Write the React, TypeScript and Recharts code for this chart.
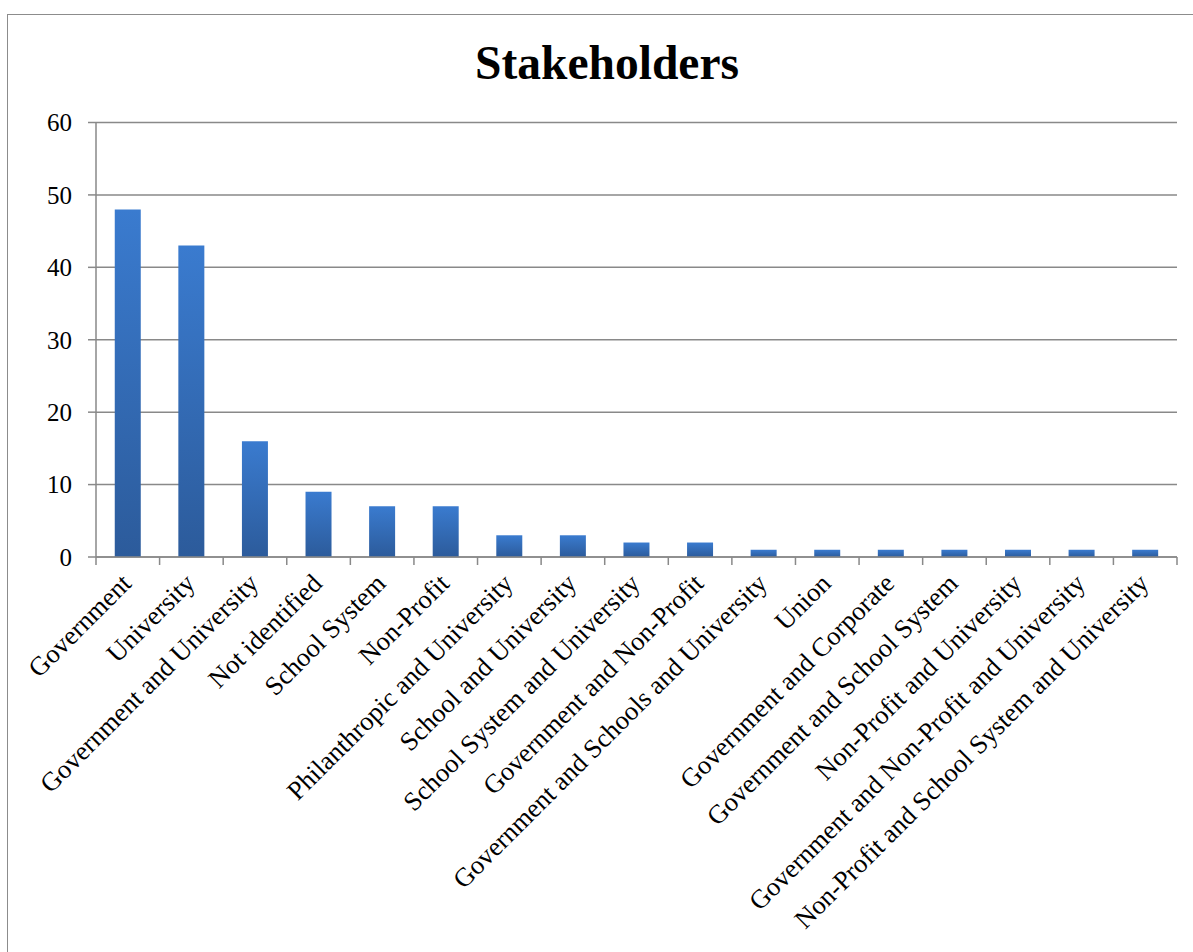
import React from "react";
import { BarChart, Bar, XAxis, YAxis, CartesianGrid } from "recharts";

const categories = [
  "Government",
  "University",
  "Government and University",
  "Not identified",
  "School System",
  "Non-Profit",
  "Philanthropic and University",
  "School and University",
  "School System and University",
  "Government and Non-Profit",
  "Government and Schools and University",
  "Union",
  "Government and Corporate",
  "Government and School System",
  "Non-Profit and University",
  "Government and Non-Profit and University",
  "Non-Profit and School System and University",
];

const counts = [48, 43, 16, 9, 7, 7, 3, 3, 2, 2, 1, 1, 1, 1, 1, 1, 1];

const yTicks = [0, 10, 20, 30, 40, 50, 60];

const title = "Stakeholders";

const data = categories.map((name, i) => ({ name, value: counts[i] }));

const AXIS_COLOR = "#898989";
const FONT = "'Liberation Serif', 'Times New Roman', serif";
const TICK_SIZE = 8;

function CategoryTick(props: any) {
  const { x, y, payload, index, visibleTicksCount } = props;
  const half = payload && payload.offset ? payload.offset : 0;
  const axisY = y - TICK_SIZE;
  const tx = x + 5;
  const ty = y + 20;
  return (
    <g>
      <line x1={x - half} x2={x - half} y1={axisY} y2={axisY + TICK_SIZE} stroke={AXIS_COLOR} strokeWidth={1.5} />
      {index === visibleTicksCount - 1 ? (
        <line x1={x + half} x2={x + half} y1={axisY} y2={axisY + TICK_SIZE} stroke={AXIS_COLOR} strokeWidth={1.5} />
      ) : null}
      <text
        x={tx}
        y={ty}
        transform={`rotate(-45, ${tx}, ${ty})`}
        textAnchor="end"
        fontFamily={FONT}
        fontSize={26.5}
        fill="#000"
      >
        {payload.value}
      </text>
    </g>
  );
}

export default function App() {
  return (
    <div style={{ position: "absolute", left: 0, top: 0, width: 1193, height: 952, background: "#fff", overflow: "hidden" }}>
      <div
        style={{
          position: "absolute",
          left: 7,
          top: 14,
          width: 1300,
          height: 1000,
          borderLeft: "1.5px solid #8c8c8c",
          borderTop: "1.5px solid #8c8c8c",
        }}
      />
      <svg style={{ position: "absolute", left: 0, top: 0 }} width={1193} height={120}>
        <text x={607} y={79} textAnchor="middle" fontFamily={FONT} fontWeight="bold" fontSize={47.5} fill="#000">
          {title}
        </text>
      </svg>
      <div style={{ position: "absolute", left: 0, top: 0 }}>
        <BarChart
          width={1193}
          height={952}
          data={data}
          margin={{ top: 122.5, right: 16, bottom: 0, left: 0 }}
          barCategoryGap="29.5%"
        >
          <defs>
            <linearGradient id="barGrad" x1="0" y1="0" x2="0" y2="1">
              <stop offset="0%" stopColor="#3A7BCF" />
              <stop offset="100%" stopColor="#2C5B9B" />
            </linearGradient>
          </defs>
          <CartesianGrid vertical={false} stroke={AXIS_COLOR} strokeWidth={1.5} />
          <XAxis
            dataKey="name"
            interval={0}
            height={395}
            tickLine={false}
            tickSize={TICK_SIZE}
            tickMargin={0}
            axisLine={{ stroke: AXIS_COLOR, strokeWidth: 1.5 }}
            tick={<CategoryTick />}
          />
          <YAxis
            width={96}
            domain={[0, 60]}
            ticks={yTicks}
            interval={0}
            tickSize={8}
            tickMargin={16}
            axisLine={{ stroke: AXIS_COLOR, strokeWidth: 1.5 }}
            tickLine={{ stroke: AXIS_COLOR, strokeWidth: 1.5 }}
            tick={{ fill: "#000", fontSize: 25, fontFamily: FONT }}
          />
          <Bar dataKey="value" fill="url(#barGrad)" isAnimationActive={false} />
        </BarChart>
      </div>
    </div>
  );
}
